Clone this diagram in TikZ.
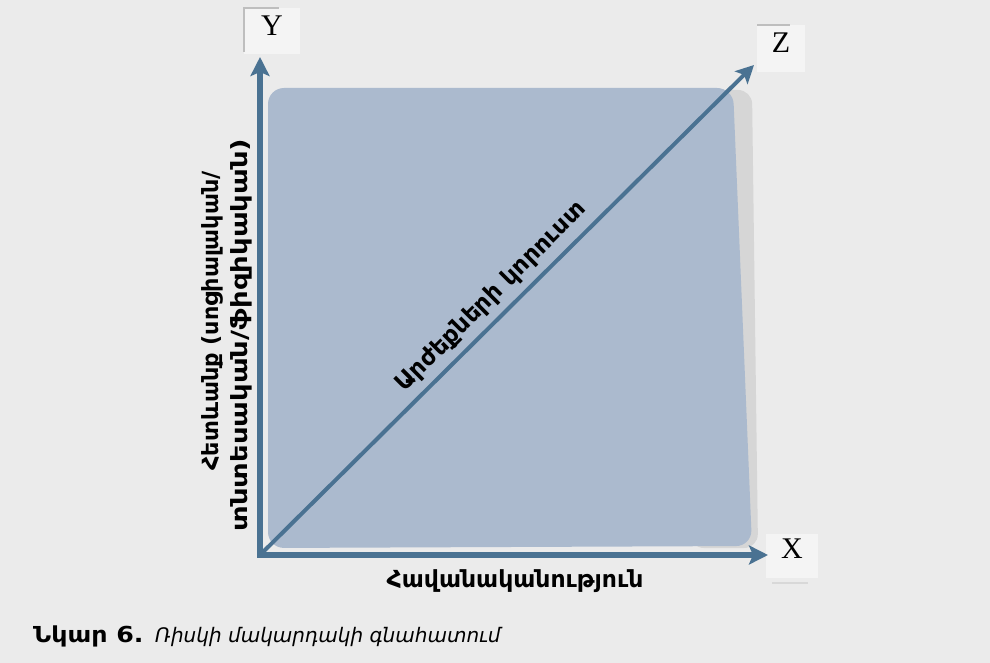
\documentclass[tikz,border=0pt]{standalone}
\usepackage{fontspec}
\setmainfont{Liberation Serif}
\newfontfamily\arm{DejaVu Sans}
\usetikzlibrary{arrows.meta}
\definecolor{bg}{RGB}{235,235,235}
\definecolor{panel}{RGB}{171,186,206}
\definecolor{shadowc}{RGB}{214,214,214}
\definecolor{axisc}{RGB}{74,114,146}
\definecolor{boxc}{RGB}{244,244,244}
\definecolor{edgec}{RGB}{190,190,190}
\tikzset{axtip/.tip={Stealth[length=19pt,width=19pt,inset=4pt]}}
\begin{document}
\begin{tikzpicture}[x=1pt,y=-1pt,
  axisline/.style={draw=axisc, line width=6pt, line join=miter},
  armlabel/.style={font=\arm\bfseries\fontsize{22.3}{26}\selectfont, inner sep=0pt},
  axletter/.style={font=\fontsize{30}{30}\selectfont, inner sep=0pt},
  labelbox/.style={fill=boxc},
  boxedge/.style={draw=edgec, line width=1.5pt}]
\fill[bg] (0,0) rectangle (990,663);
\useasboundingbox (0,0) rectangle (990,663);
% panel and its shadow
\fill[shadowc, rounded corners=14pt] (690,90) -- (752,90) -- (758,548) -- (690,548) -- cycle;
\fill[panel, rounded corners=16pt] (268,88) -- (733,88) -- (752,546) -- (268,548) -- cycle;
% label boxes
\fill[labelbox] (244,8) rectangle (300,54);
\draw[boxedge] (244,52) -- (244,8) -- (279,8);
\fill[labelbox] (757,25) rectangle (805,72);
\draw[boxedge] (757,25) -- (790,25);
\fill[labelbox] (766,534) rectangle (818,578);
\draw[boxedge, draw=edgec!60] (772,583) -- (808,583);
% axes
\coordinate (O) at (260,555);
\coordinate (Ytip) at (260,57);
\coordinate (Xtip) at (768,555);
\coordinate (Ztip) at (754,65);
\draw[draw=axisc, line width=4pt, -{Stealth[length=18pt,width=18pt,inset=4pt]}] (O) -- (Ztip);
\draw[axisline, axtip-axtip] (Ytip) -- (O) -- (Xtip);
% axis letters
\node[axletter] (ylab) at (272,26) {Y};
\node[axletter] (zlab) at (781,43) {Z};
\node[axletter] (xlab) at (792,549) {X};
% axis names
\node[armlabel, anchor=base, font=\arm\bfseries\fontsize{23.5}{26}\selectfont] (xname) at (515,587) {Հավանականություն};
\node[armlabel, rotate=90] (yname1) at (212,321) {Հետևանք (սոցիալական/};
\node[armlabel, rotate=90] (yname2) at (241,335) {\scalebox{1.23}[1]{տնտեսական/ֆիզիկական)}};
\node[armlabel, rotate=45, font=\arm\bfseries\fontsize{23.5}{26}\selectfont] (zname) at (491,297) {Արժեքների կորուստ};
% caption
\node[anchor=base west, inner sep=0pt, font=\arm\bfseries\fontsize{22}{24}\selectfont] (capnum) at (33,642) {\scalebox{1.15}[1]{Նկար 6.}};
\node[anchor=base west, inner sep=0pt, font=\arm\itshape\fontsize{20}{24}\selectfont] (captext) at (155,642) {Ռիսկի մակարդակի գնահատում};
\end{tikzpicture}
\end{document}
